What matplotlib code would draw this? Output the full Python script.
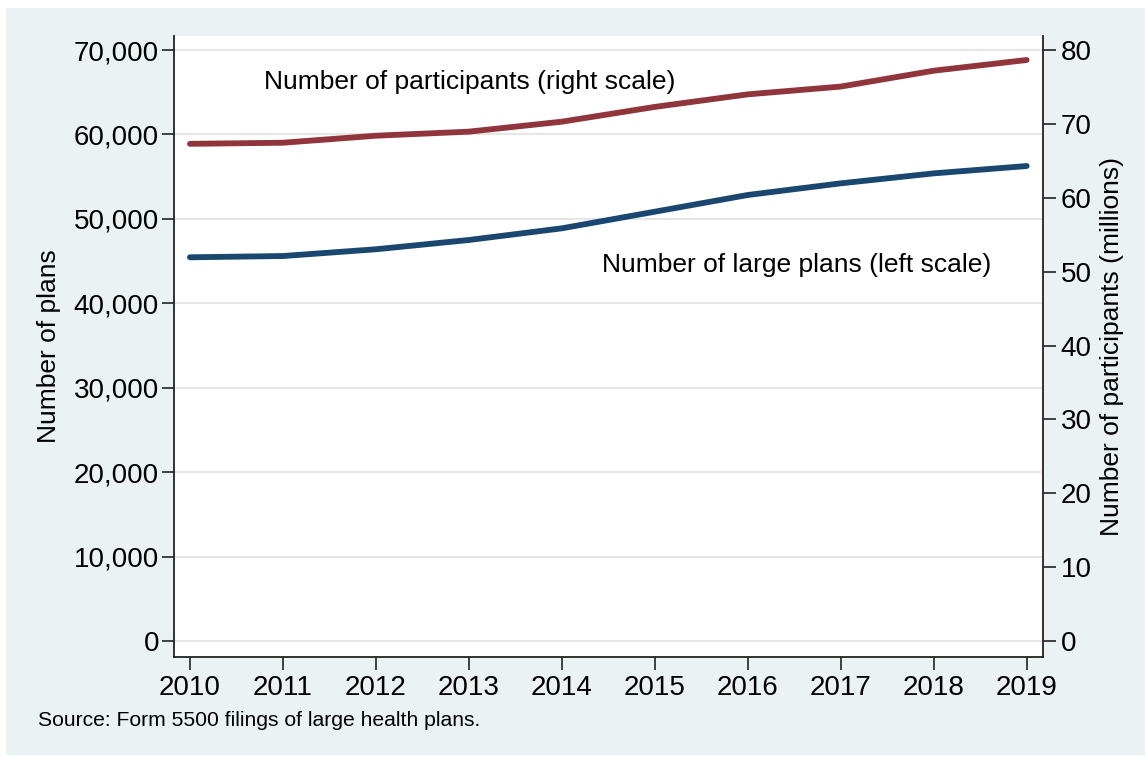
import matplotlib
matplotlib.use("Agg")
import matplotlib.pyplot as plt
from matplotlib.patches import Rectangle
from matplotlib.ticker import FuncFormatter

plt.rcParams['font.family'] = ['Liberation Sans', 'DejaVu Sans']

# data
years = [2010, 2011, 2012, 2013, 2014, 2015, 2016, 2017, 2018, 2019]
large_plans = [45450, 45600, 46400, 47500, 48880, 50850, 52830, 54210, 55390, 56260]
participants_m = [67.3, 67.45, 68.4, 68.95, 70.3, 72.3, 74.0, 75.05, 77.2, 78.65]

left_ticks = [0, 10000, 20000, 30000, 40000, 50000, 60000, 70000]
right_ticks = [0, 10, 20, 30, 40, 50, 60, 70, 80]

bg = '#EAF2F3'
red = '#90353B'
navy = '#1A476F'

fig = plt.figure(figsize=(11.45, 7.58), dpi=100)
fig.patches.append(Rectangle((6 / 1145, 3 / 758), 1, 747 / 758, transform=fig.transFigure,
                             facecolor=bg, edgecolor='none', zorder=-10))
ax = fig.add_axes([0.1517, 0.1332, 0.9107 - 0.1517, 0.9525 - 0.1332])
ax.set_facecolor('white')
ax2 = ax.twinx()

ylo, yhi = -1896, 71660
ax.set_ylim(ylo, yhi)
ax2.set_ylim(ylo * 80 / 70000, yhi * 80 / 70000)
ax.set_xlim(2009.825, 2019.173)

for t in left_ticks:
    ax.axhline(t, color='#E6E6E6', lw=1.5, zorder=0)

ax.plot(years, large_plans, color=navy, lw=4.2, solid_capstyle='round', zorder=3)
ax2.plot(years, participants_m, color=red, lw=4.2, solid_capstyle='round', zorder=3)

ax.set_yticks(left_ticks)
ax.yaxis.set_major_formatter(FuncFormatter(lambda v, p: f'{int(v):,}'))
ax2.set_yticks(right_ticks)
ax.set_xticks(years)

for a in (ax, ax2):
    a.tick_params(labelsize=20, length=9, width=1.2, color='#222222', pad=4)
    for s in a.spines.values():
        s.set_color('#222222')
        s.set_linewidth(1.3)
    a.spines['top'].set_visible(False)
ax.tick_params(axis='y', pad=1.5)
ax.spines['right'].set_visible(False)
ax2.spines['left'].set_visible(False)
ax2.spines['bottom'].set_visible(False)

ax.set_ylabel('Number of plans', fontsize=19)
ax.yaxis.set_label_coords(-0.13, 0.5)
ax2.set_ylabel('Number of participants (millions)', fontsize=19)
ax2.yaxis.set_label_coords(1.066, 0.5)

ax.text(2010.8, 66200, 'Number of participants (right scale)', fontsize=19, va='center', ha='left')
ax.text(2014.43, 44530, 'Number of large plans (left scale)', fontsize=19, va='center', ha='left')

fig.text(38 / 1145, 1 - 720 / 758, 'Source: Form 5500 filings of large health plans.',
         fontsize=15.2, va='center', ha='left')

fig.savefig('out.png', dpi=100, facecolor='white')
